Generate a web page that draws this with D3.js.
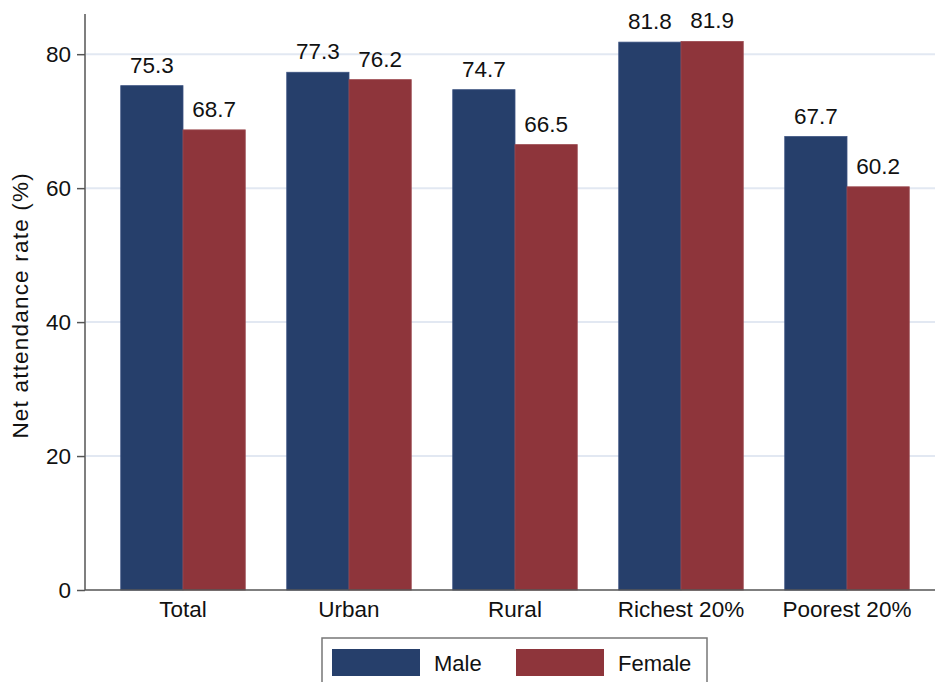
<!DOCTYPE html>
<html>
<head>
<meta charset="utf-8">
<script src="https://cdn.jsdelivr.net/npm/d3@7"></script>
<style>
  html, body { margin: 0; padding: 0; background: #fff; }
  svg { display: block; font-family: "Liberation Sans", Arial, sans-serif; }
</style>
</head>
<body>
<svg id="chart" width="935" height="682"></svg>
<script>
const categories = ["Total", "Urban", "Rural", "Richest 20%", "Poorest 20%"];
const seriesNames = ["Male", "Female"];
const maleValues = [75.3, 77.3, 74.7, 81.8, 67.7];
const femaleValues = [68.7, 76.2, 66.5, 81.9, 60.2];
const yTicks = [0, 20, 40, 60, 80];
const yTitle = "Net attendance rate (%)";
const colors = ["#263f6b", "#8e353b"];

const FS = 22.5;
const svg = d3.select("#chart");
const x0 = d3.scaleBand().domain(categories).range([100, 930]).paddingInner(0.25).paddingOuter(0.125);
const x1 = d3.scaleBand().domain(seriesNames).range([0, x0.bandwidth()]);
const y = d3.scaleLinear().domain([0, 86]).range([590, 14]);

// gridlines
svg.append("g").selectAll("line").data(yTicks.filter(d => d > 0)).join("line")
  .attr("x1", 86).attr("x2", 935)
  .attr("y1", d => y(d)).attr("y2", d => y(d))
  .attr("stroke", "#e2e8f2").attr("stroke-width", 2);

// bars
const series = [maleValues, femaleValues];
const g = svg.append("g");
categories.forEach((c, i) => {
  seriesNames.forEach((s, j) => {
    const v = series[j][i];
    g.append("rect")
      .attr("x", x0(c) + x1(s)).attr("width", x1.bandwidth())
      .attr("y", y(v)).attr("height", y(0) - y(v))
      .attr("fill", colors[j])
      .attr("stroke", j === 0 ? "#3b5280" : "#9c4a50").attr("stroke-width", 0.8);
    g.append("text")
      .attr("x", x0(c) + x1(s) + x1.bandwidth() / 2)
      .attr("y", y(v) - 13)
      .attr("text-anchor", "middle")
      .attr("font-size", FS).attr("fill", "#111")
      .text(v.toFixed(1));
  });
});

// x axis baseline
svg.append("line").attr("x1", 85).attr("x2", 935).attr("y1", y(0)).attr("y2", y(0))
  .attr("stroke", "#555").attr("stroke-width", 1.5);

// x category labels
svg.append("g").selectAll("text").data(categories).join("text")
  .attr("x", d => x0(d) + x0.bandwidth() / 2)
  .attr("y", 617)
  .attr("text-anchor", "middle")
  .attr("font-size", FS).attr("fill", "#111")
  .text(d => d);

// y axis
const yAxis = d3.axisLeft(y).tickValues(yTicks).tickSize(8).tickPadding(6);
const ya = svg.append("g").attr("transform", "translate(85,0)").call(yAxis);
ya.select(".domain").attr("stroke", "#555").attr("stroke-width", 1.5).attr("d", `M0,${y(86)}V${y(0)}`);
ya.selectAll(".tick line").attr("stroke", "#555").attr("stroke-width", 1.5);
ya.selectAll(".tick text").attr("font-size", FS).attr("fill", "#111")
  .attr("font-family", "Liberation Sans, Arial, sans-serif");

// y title
svg.append("text")
  .attr("transform", `translate(28,${y(42.5)}) rotate(-90)`)
  .attr("text-anchor", "middle")
  .attr("font-size", FS).attr("letter-spacing", 1.2).attr("fill", "#111")
  .text(yTitle);

// legend
const leg = svg.append("g");
leg.append("rect").attr("x", 322).attr("y", 638).attr("width", 385).attr("height", 60)
  .attr("fill", "#fff").attr("stroke", "#777").attr("stroke-width", 1.5);
const legX = [332, 516];
seriesNames.forEach((s, j) => {
  leg.append("rect").attr("x", legX[j]).attr("y", 649).attr("width", 88).attr("height", 27)
    .attr("fill", colors[j]);
  leg.append("text").attr("x", legX[j] + 102).attr("y", 671)
    .attr("font-size", 22).attr("fill", "#111").text(s);
});
</script>
</body>
</html>
